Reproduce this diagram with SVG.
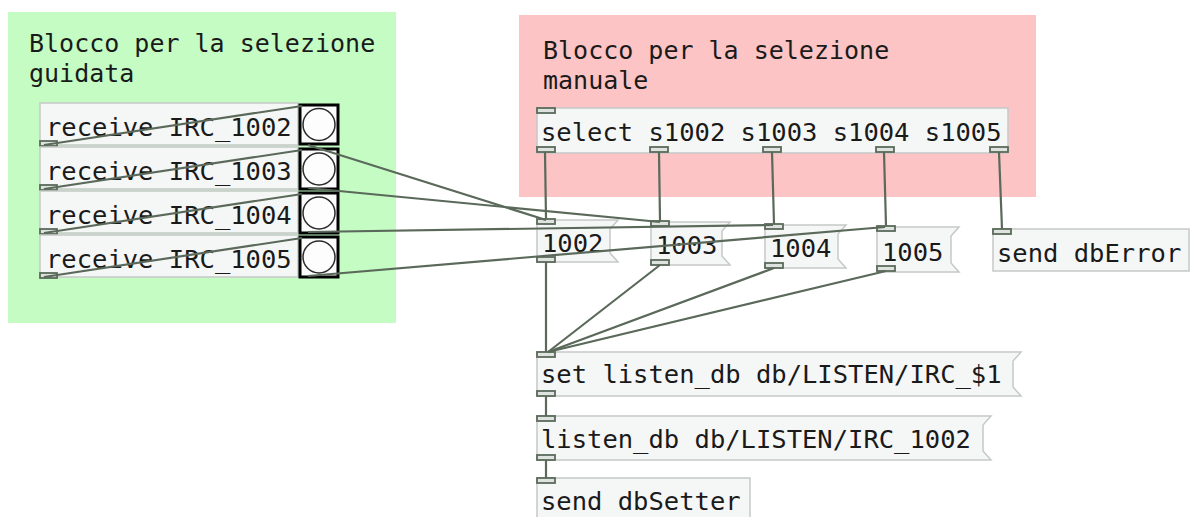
<svg xmlns="http://www.w3.org/2000/svg" width="1194" height="517" viewBox="0 0 1194 517">
<style>
text{font-family:"DejaVu Sans Mono","Liberation Mono",monospace;font-size:25.5px;fill:#1a1a1a}
text.title{font-size:25px}
.obj{fill:#f5f7f7;stroke:#c6c8c8;stroke-width:1.5}
.io{fill:#dfe3df;stroke:#5b6a5b;stroke-width:1.8}
.bng{fill:#fbfbfb;stroke:#000;stroke-width:3}
.bc{fill:#fdfdfd;stroke:#2a2a2a;stroke-width:1.5}
.cn line{stroke:#5a695a;stroke-width:2.2;fill:none}
</style>
<g id="canvas-green">
<rect x="8" y="12" width="388" height="311" fill="#c4fcc4"/>
<text class="title" x="29" y="52">Blocco per la selezione</text>
<text class="title" x="29" y="81.5">guidata</text>
</g>
<g id="canvas-pink">
<rect x="519" y="15" width="517" height="182" fill="#fcc4c4"/>
<text class="title" x="543" y="59">Blocco per la selezione</text>
<text class="title" x="543" y="88.5">manuale</text>
</g>

<g id="recv1002"><rect class="obj" x="40" y="103" width="258" height="42"/><text x="46" y="136">receive IRC_1002</text><rect class="io" x="40" y="141" width="17" height="5"/></g>
<g id="recv1003"><rect class="obj" x="40" y="147" width="258" height="42"/><text x="46" y="180">receive IRC_1003</text><rect class="io" x="40" y="185" width="17" height="5"/></g>
<g id="recv1004"><rect class="obj" x="40" y="191" width="258" height="42"/><text x="46" y="224">receive IRC_1004</text><rect class="io" x="40" y="229" width="17" height="5"/></g>
<g id="recv1005"><rect class="obj" x="40" y="235" width="258" height="42"/><text x="46" y="268">receive IRC_1005</text><rect class="io" x="40" y="273" width="17" height="5"/></g>

<g id="bang1002"><rect class="bng" x="300" y="105" width="38" height="39"/><circle class="bc" cx="319" cy="124.5" r="16"/></g>
<g id="bang1003"><rect class="bng" x="300" y="149" width="38" height="40"/><circle class="bc" cx="319" cy="169" r="16"/></g>
<g id="bang1004"><rect class="bng" x="300" y="193" width="38" height="40"/><circle class="bc" cx="319" cy="213" r="16"/></g>
<g id="bang1005"><rect class="bng" x="300" y="237" width="38" height="40"/><circle class="bc" cx="319" cy="257" r="16"/></g>

<g id="select"><rect class="obj" x="537" y="108" width="471" height="45"/><text x="541" y="141">select s1002 s1003 s1004 s1005</text>
<rect class="io" x="537" y="108" width="18" height="5"/>
<rect class="io" x="537" y="147" width="18" height="5"/><rect class="io" x="650" y="147" width="18" height="5"/><rect class="io" x="763" y="147" width="18" height="5"/><rect class="io" x="876" y="147" width="18" height="5"/><rect class="io" x="990" y="147" width="18" height="5"/></g>

<g id="msg1002"><polygon class="obj" points="537,220 618,220 610,229 610,253 618,262 537,262"/><text x="542" y="252">1002</text><rect class="io" x="537" y="219" width="18" height="5"/><rect class="io" x="537" y="257" width="18" height="5"/></g>
<g id="msg1003"><polygon class="obj" points="651,222 730,222 722,231 722,256 730,265 651,265"/><text x="656" y="254">1003</text><rect class="io" x="651" y="221" width="18" height="5"/><rect class="io" x="651" y="260" width="18" height="5"/></g>
<g id="msg1004"><polygon class="obj" points="765,225 846,225 838,234 838,259 846,268 765,268"/><text x="770" y="257">1004</text><rect class="io" x="765" y="224" width="18" height="5"/><rect class="io" x="765" y="263" width="18" height="5"/></g>
<g id="msg1005"><polygon class="obj" points="877,227 959,227 951,236 951,263 959,272 877,272"/><text x="882" y="261">1005</text><rect class="io" x="877" y="226" width="18" height="5"/><rect class="io" x="877" y="266" width="18" height="5"/></g>

<g id="senddbError"><rect class="obj" x="993" y="229" width="196" height="42"/><text x="997" y="262">send dbError</text><rect class="io" x="993" y="229" width="18" height="5"/></g>

<g id="msgset"><polygon class="obj" points="537,352 1021,352 1013,361 1013,387 1021,396 537,396"/><text x="541" y="383">set listen_db db/LISTEN/IRC_$1</text><rect class="io" x="537" y="352" width="18" height="5"/><rect class="io" x="537" y="391" width="18" height="5"/></g>
<g id="msglisten"><polygon class="obj" points="537,416 991,416 983,425 983,451 991,460 537,460"/><text x="541" y="448">listen_db db/LISTEN/IRC_1002</text><rect class="io" x="537" y="416" width="18" height="5"/><rect class="io" x="537" y="455" width="18" height="5"/></g>
<g id="senddbSetter"><rect class="obj" x="537" y="478" width="213" height="45"/><text x="541" y="510">send dbSetter</text><rect class="io" x="537" y="478" width="18" height="5"/></g>

<g id="connectors" class="cn">
<line x1="44" y1="145" x2="302" y2="106"/>
<line x1="44" y1="189" x2="302" y2="150"/>
<line x1="44" y1="233" x2="302" y2="194"/>
<line x1="44" y1="277" x2="302" y2="238"/>
<line x1="308" y1="145" x2="546" y2="220"/>
<line x1="308" y1="188" x2="660" y2="222"/>
<line x1="308" y1="232" x2="773" y2="225"/>
<line x1="308" y1="276" x2="885" y2="227"/>
<line x1="545" y1="152" x2="546" y2="219"/>
<line x1="659" y1="152" x2="660" y2="221"/>
<line x1="772" y1="152" x2="774" y2="224"/>
<line x1="884" y1="152" x2="886" y2="226"/>
<line x1="999" y1="152" x2="1002" y2="229"/>
<line x1="546" y1="262" x2="546" y2="352"/>
<line x1="660" y1="265" x2="548" y2="352"/>
<line x1="774" y1="268" x2="548" y2="352"/>
<line x1="886" y1="271" x2="548" y2="352"/>
<line x1="546" y1="396" x2="546" y2="416"/>
<line x1="546" y1="460" x2="546" y2="478"/>
</g>
</svg>
